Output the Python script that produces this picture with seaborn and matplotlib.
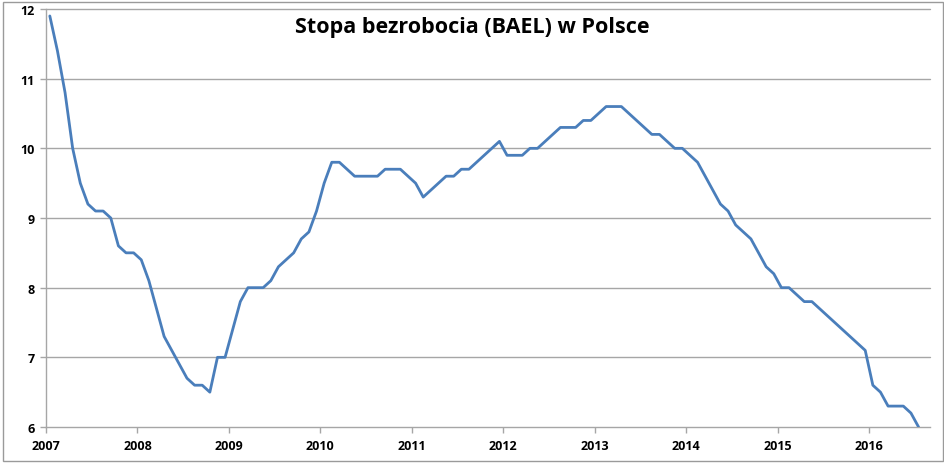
import numpy as np
import pandas as pd
import matplotlib
matplotlib.use("Agg")
import matplotlib.pyplot as plt
import seaborn as sns
from matplotlib.patches import Rectangle

# miesięczna stopa bezrobocia (BAEL), styczeń 2007 - lipiec 2016
start_year = 2007
values = [
    11.9, 11.4, 10.8, 10.0, 9.5, 9.2, 9.1, 9.1, 9.0, 8.6, 8.5, 8.5,
    8.4, 8.1, 7.7, 7.3, 7.1, 6.9, 6.7, 6.6, 6.6, 6.5, 7.0, 7.0,
    7.4, 7.8, 8.0, 8.0, 8.0, 8.1, 8.3, 8.4, 8.5, 8.7, 8.8, 9.1,
    9.5, 9.8, 9.8, 9.7, 9.6, 9.6, 9.6, 9.6, 9.7, 9.7, 9.7, 9.6,
    9.5, 9.3, 9.4, 9.5, 9.6, 9.6, 9.7, 9.7, 9.8, 9.9, 10.0, 10.1,
    9.9, 9.9, 9.9, 10.0, 10.0, 10.1, 10.2, 10.3, 10.3, 10.3, 10.4, 10.4,
    10.5, 10.6, 10.6, 10.6, 10.5, 10.4, 10.3, 10.2, 10.2, 10.1, 10.0, 10.0,
    9.9, 9.8, 9.6, 9.4, 9.2, 9.1, 8.9, 8.8, 8.7, 8.5, 8.3, 8.2,
    8.0, 8.0, 7.9, 7.8, 7.8, 7.7, 7.6, 7.5, 7.4, 7.3, 7.2, 7.1,
    6.6, 6.5, 6.3, 6.3, 6.3, 6.2, 6.0,
]
year_labels = [str(y) for y in range(2007, 2017)]
title = "Stopa bezrobocia (BAEL) w Polsce"

# środek każdego miesiąca na osi lat
month_pos = start_year + (np.arange(len(values)) + 0.5) / 12
df = pd.DataFrame({"czas": month_pos, "stopa": values})

sns.set_style("white")
plt.rcParams["font.family"] = ["Open Sans", "DejaVu Sans"]

W, H = 945, 464
fig = plt.figure(figsize=(W / 100, H / 100), dpi=100)
ax = fig.add_axes([46 / W, (H - 428) / H, (930 - 46) / W, (428 - 10) / H])

grid_col = "#a6a6a6"
for v in range(7, 13):
    ax.axhline(v, color=grid_col, lw=1.0, zorder=0, clip_on=False)

sns.lineplot(data=df, x="czas", y="stopa", ax=ax, color="#4a7ebb",
             linewidth=2.0, zorder=3)

ax.set_xlim(start_year, start_year + (len(values) + 1) / 12)
ax.set_ylim(6, 12)
ax.set_xticks([int(y) for y in year_labels])
ax.set_xticklabels(year_labels)
ax.set_yticks(range(6, 13))
ax.set_xlabel("")
ax.set_ylabel("")

for s in ["top", "right"]:
    ax.spines[s].set_visible(False)
for s in ["left", "bottom"]:
    ax.spines[s].set_color(grid_col)
    ax.spines[s].set_linewidth(1.0)

ax.tick_params(axis="both", which="both", length=4, width=1.0,
               color=grid_col, labelsize=9, labelcolor="black")
ax.tick_params(axis="x", direction="out", pad=5, bottom=True)
ax.tick_params(axis="y", direction="out", pad=4, left=True)
for lab in ax.get_xticklabels() + ax.get_yticklabels():
    lab.set_fontweight("bold")

fig.text(472 / W, 1 - 28 / H, title, ha="center", va="center",
         fontsize=15.5, fontweight="bold", color="black")

# ramka wykresu
fig.patches.append(Rectangle((3 / W, 2 / H), (943 - 3) / W, (461 - 2) / H,
                             transform=fig.transFigure, fill=False,
                             edgecolor="#9a9a9a", linewidth=1.0))

fig.savefig("out.png", dpi=100)
